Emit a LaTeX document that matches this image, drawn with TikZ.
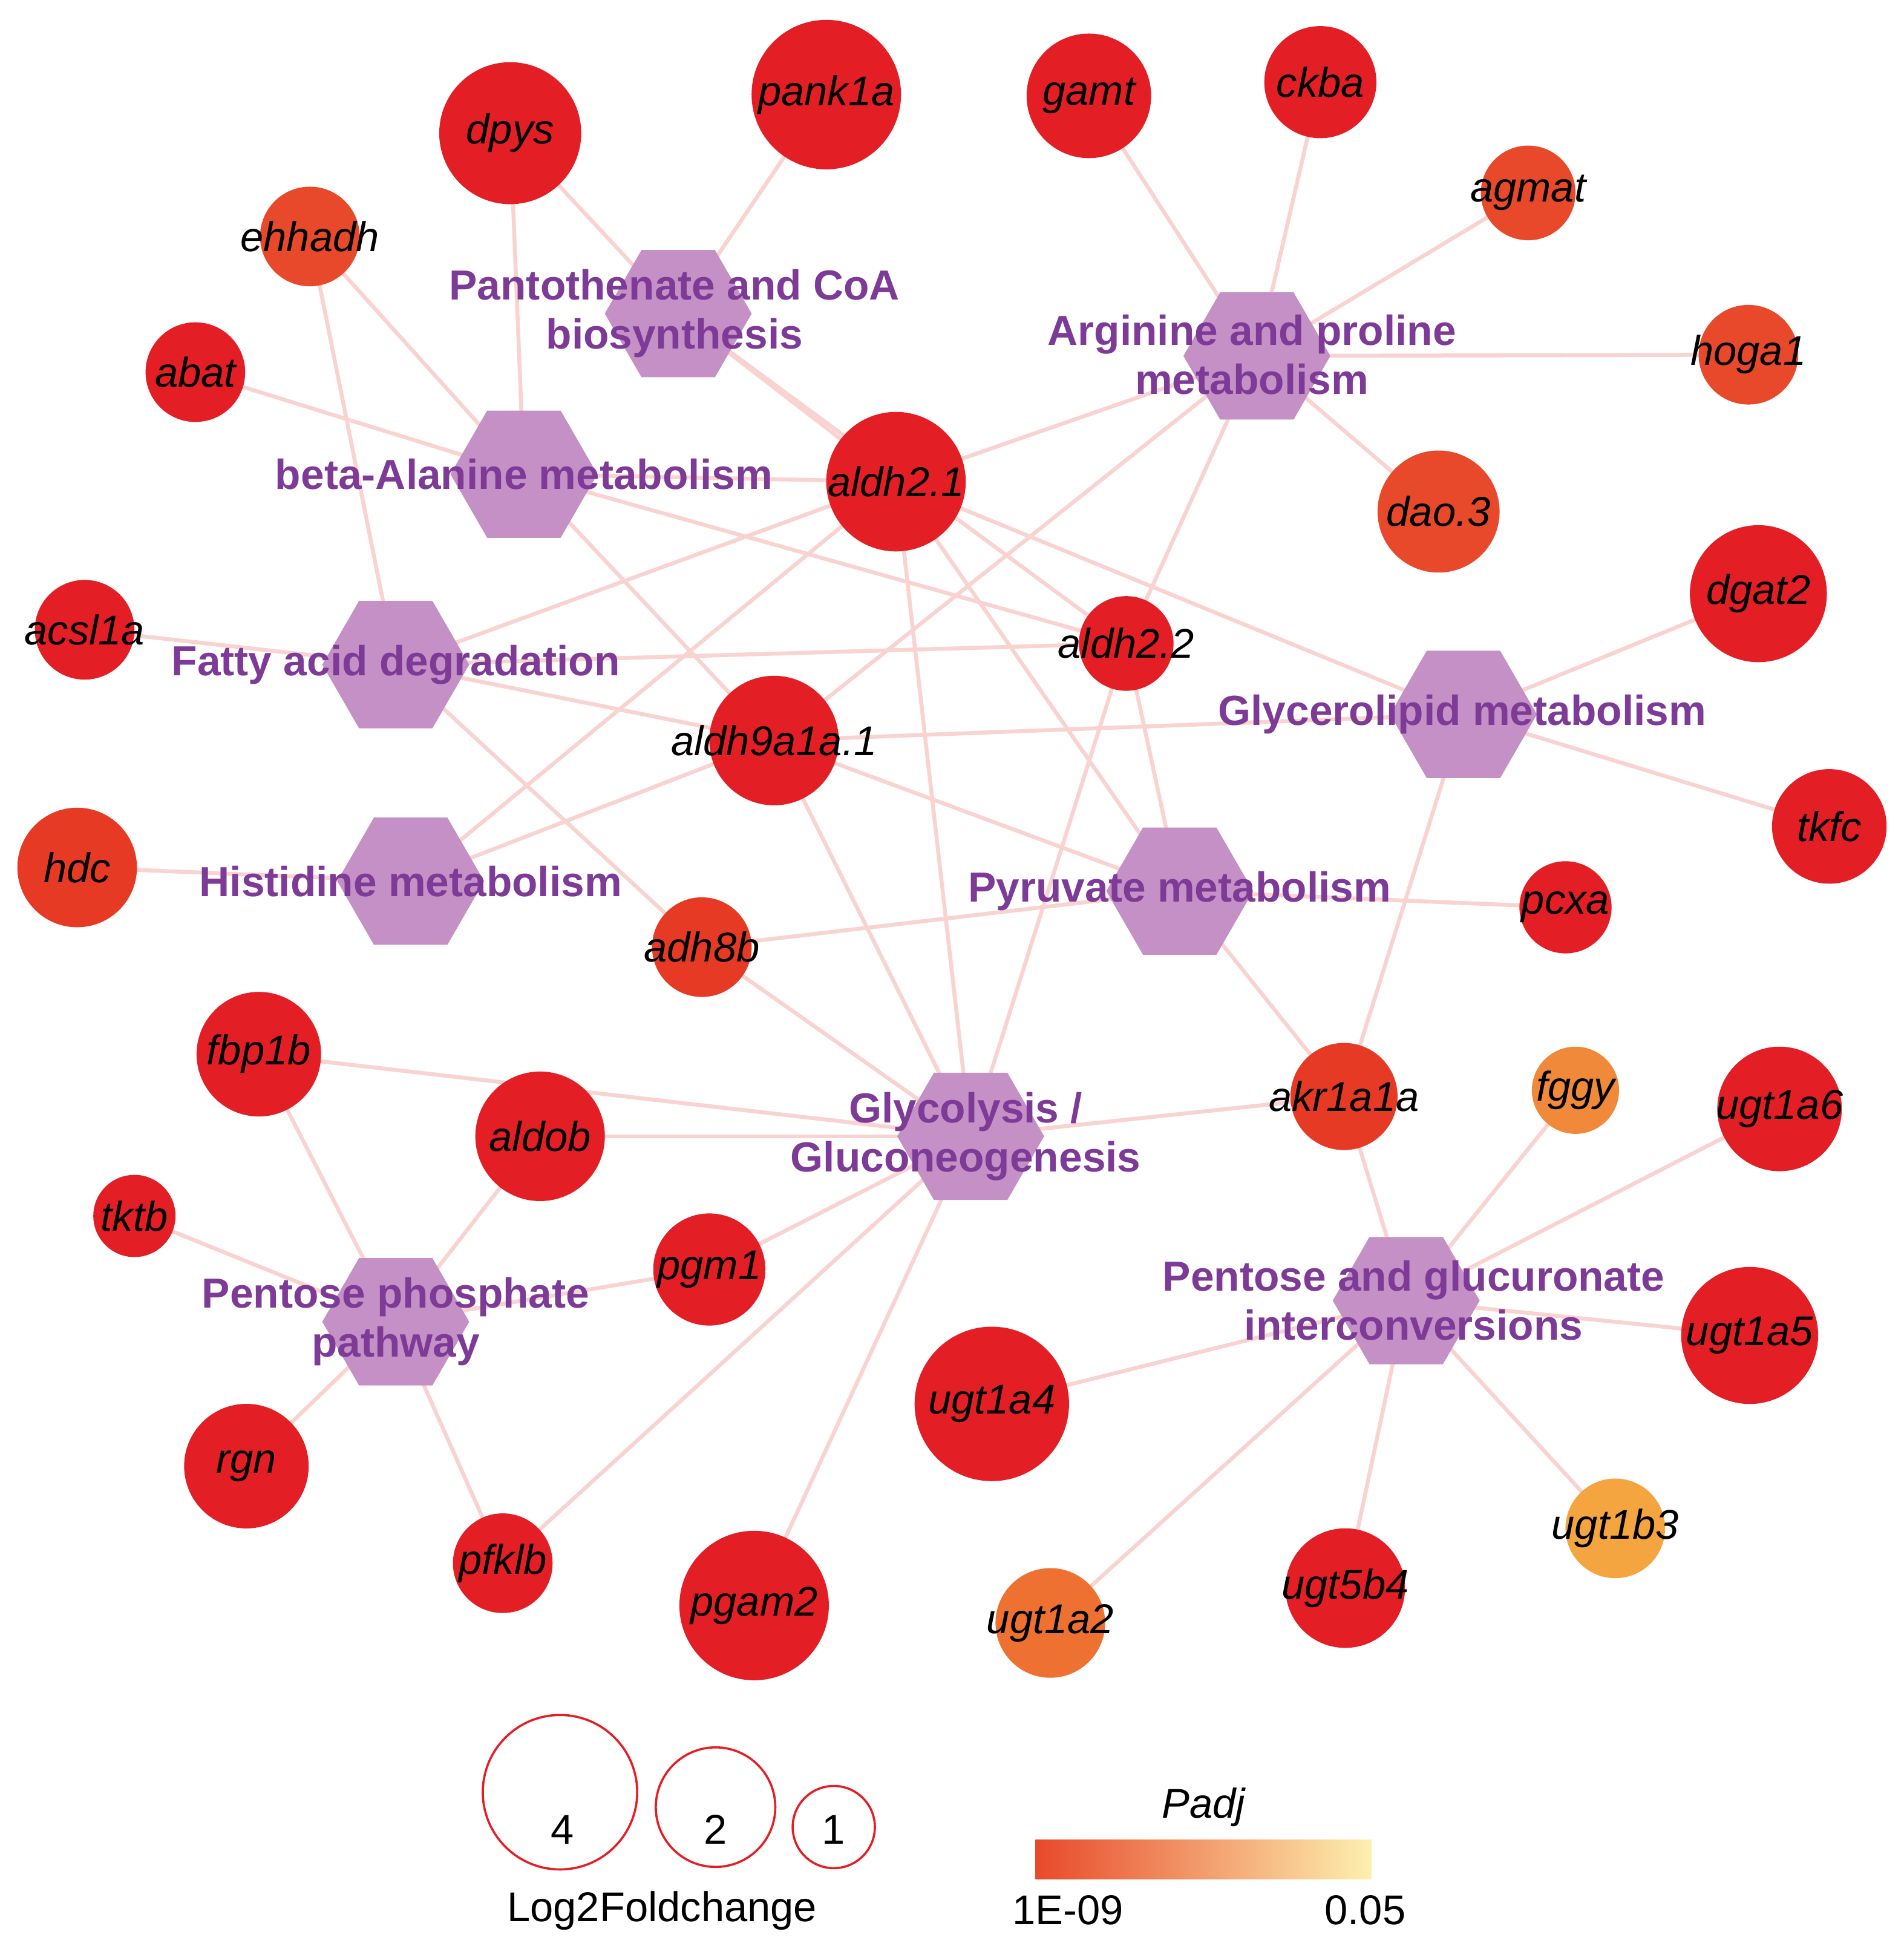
\documentclass[tikz,border=0pt]{standalone}
\usepackage{fontspec}
\setmainfont{Liberation Sans}
\usetikzlibrary{shapes.geometric,backgrounds}
\definecolor{gred}{HTML}{E31E24}
\definecolor{gor1}{HTML}{E8492A}
\definecolor{gor2}{HTML}{E63A25}
\definecolor{gor3}{HTML}{EE7132}
\definecolor{gor4}{HTML}{F08A3A}
\definecolor{gor5}{HTML}{F4A540}
\definecolor{hexfill}{HTML}{C490C6}
\definecolor{hextext}{HTML}{7D3A97}
\definecolor{edgec}{HTML}{F8D3CF}
\tikzset{
 gene/.style={circle,fill=gred,inner sep=0pt},
 genelab/.style={inner sep=0pt,font=\fontsize{9.5}{11}\selectfont\itshape},
 pw/.style={regular polygon,regular polygon sides=6,fill=hexfill,minimum size=1.18cm,inner sep=0pt},
 pwlab/.style={text=hextext,font=\fontsize{9.6}{11.2}\selectfont\bfseries,align=center},
 link/.style={draw=edgec,line width=0.9pt},
 leg/.style={circle,draw=gred,line width=0.5pt,inner sep=0pt},
 legtxt/.style={font=\fontsize{9.5}{11}\selectfont}
}
\begin{document}
\begin{tikzpicture}[x=0.01cm,y=-0.01cm]
\useasboundingbox (0,0) rectangle (1530,1566);
% pathways
\foreach \n/\x/\y in {pant/545/252,argi/1010/286,beta/421/381,fatty/318/534,glyce/1176/574,hist/330/708,pyru/948/716,glyc/780/913,pglu/1130/1045,pphos/318/1062}
  \node[pw] (\n) at (\x,\y) {};
% genes
\foreach \n/\t/\x/\y/\r/\c in {
 dpys/dpys/410/107/57/gred, pank1a/pank1a/664/76/60/gred, gamt/gamt/875/77/50/gred,
 ckba/ckba/1061/66/45/gred, agmat/agmat/1228/155/38/gor1, ehhadh/ehhadh/249/190/40/gor1,
 hoga1/hoga1/1405/285/40/gor1, abat/abat/157/299/40/gred, aldh21/aldh2.1/720/387/56/gred,
 dao3/dao.3/1156/411/49/gor1, dgat2/dgat2/1413/477/55/gred, acsl1a/acsl1a/68/506/40/gred,
 aldh22/aldh2.2/905/517/38/gred, aldh9/aldh9a1a.1/622/595/52/gred, tkfc/tkfc/1470/664/46/gred,
 hdc/hdc/62/697/48/gor2, pcxa/pcxa/1258/729/37/gred, adh8b/adh8b/564/761/40/gor2,
 fbp1b/fbp1b/208/847/50/gred, aldob/aldob/434/913/52/gred, akr1a1a/akr1a1a/1080/881/43/gor2,
 fggy/fggy/1266/876/35/gor4, ugt1a6/ugt1a6/1430/891/50/gred, tktb/tktb/108/977/33/gred,
 pgm1/pgm1/570/1020/45/gred, ugt1a5/ugt1a5/1406/1073/55/gred, ugt1a4/ugt1a4/797/1128/62/gred,
 rgn/rgn/198/1178/50/gred, pfklb/pfklb/404/1256/40/gred, pgam2/pgam2/606/1290/60/gred,
 ugt1a2/ugt1a2/844/1304/44/gor3, ugt5b4/ugt5b4/1081/1276/48/gred, ugt1b3/ugt1b3/1298/1228/40/gor5}
  {\node[gene,fill=\c,minimum size=\r*0.02cm] (\n) at (\x,\y) {};
   \node[genelab] at (\n.center) {\t};}
% pathway labels
\node[pwlab] at (542,252) {Pantothenate and CoA\\biosynthesis};
\node[pwlab] at (1006,285) {Arginine and proline\\metabolism};
\node[pwlab] at (421,381) {beta-Alanine metabolism};
\node[pwlab] at (318,534) {Fatty acid degradation};
\node[pwlab] at (1175,574) {Glycerolipid metabolism};
\node[pwlab] at (330,708) {Histidine metabolism};
\node[pwlab] at (948,716) {Pyruvate metabolism};
\node[pwlab] at (776,913) {Glycolysis /\\Gluconeogenesis};
\node[pwlab] at (1136,1045) {Pentose and glucuronate\\interconversions};
\node[pwlab] at (318,1062) {Pentose phosphate\\pathway};
% edges
\begin{pgfonlayer}{background}
\foreach \a/\b in {pant/dpys,pant/pank1a,pant/aldh21,pant/aldh22,
 argi/gamt,argi/ckba,argi/agmat,argi/hoga1,argi/dao3,argi/aldh21,argi/aldh22,argi/aldh9,
 beta/dpys,beta/ehhadh,beta/abat,beta/aldh21,beta/aldh22,beta/aldh9,
 fatty/ehhadh,fatty/acsl1a,fatty/aldh21,fatty/aldh22,fatty/aldh9,fatty/adh8b,
 glyce/dgat2,glyce/tkfc,glyce/aldh21,glyce/aldh9,glyce/akr1a1a,
 hist/hdc,hist/aldh21,hist/aldh9,
 pyru/aldh21,pyru/aldh22,pyru/aldh9,pyru/adh8b,pyru/pcxa,pyru/akr1a1a,
 glyc/fbp1b,glyc/aldob,glyc/pgm1,glyc/pfklb,glyc/pgam2,glyc/aldh21,glyc/aldh22,glyc/aldh9,glyc/adh8b,glyc/akr1a1a,
 pglu/akr1a1a,pglu/fggy,pglu/ugt1a6,pglu/ugt1a5,pglu/ugt1a4,pglu/ugt1a2,pglu/ugt5b4,pglu/ugt1b3,
 pphos/fbp1b,pphos/aldob,pphos/tktb,pphos/pgm1,pphos/rgn,pphos/pfklb}
  \draw[link] (\a.center) -- (\b.center);
\end{pgfonlayer}
% legend
\node[leg,minimum size=1.24cm] (l4) at (450,1440) {};
\node[leg,minimum size=0.96cm] (l2) at (575,1452) {};
\node[leg,minimum size=0.66cm] (l1) at (670,1468) {};
\node[legtxt] at (452,1470) {4};
\node[legtxt] at (575,1470) {2};
\node[legtxt] at (670,1470) {1};
\node[legtxt] (lfc) at (532,1535) {Log2Foldchange};
\shade[left color=gor1,right color={rgb,255:red,253;green,240;blue,176}] (832,1478) rectangle (1102,1510);
\node[legtxt,font=\fontsize{9.5}{11}\selectfont\itshape] (padj) at (967,1452) {Padj};
\node[legtxt] (lo) at (858,1535) {1E-09};
\node[legtxt] (hi) at (1097,1535) {0.05};
\end{tikzpicture}
\end{document}
